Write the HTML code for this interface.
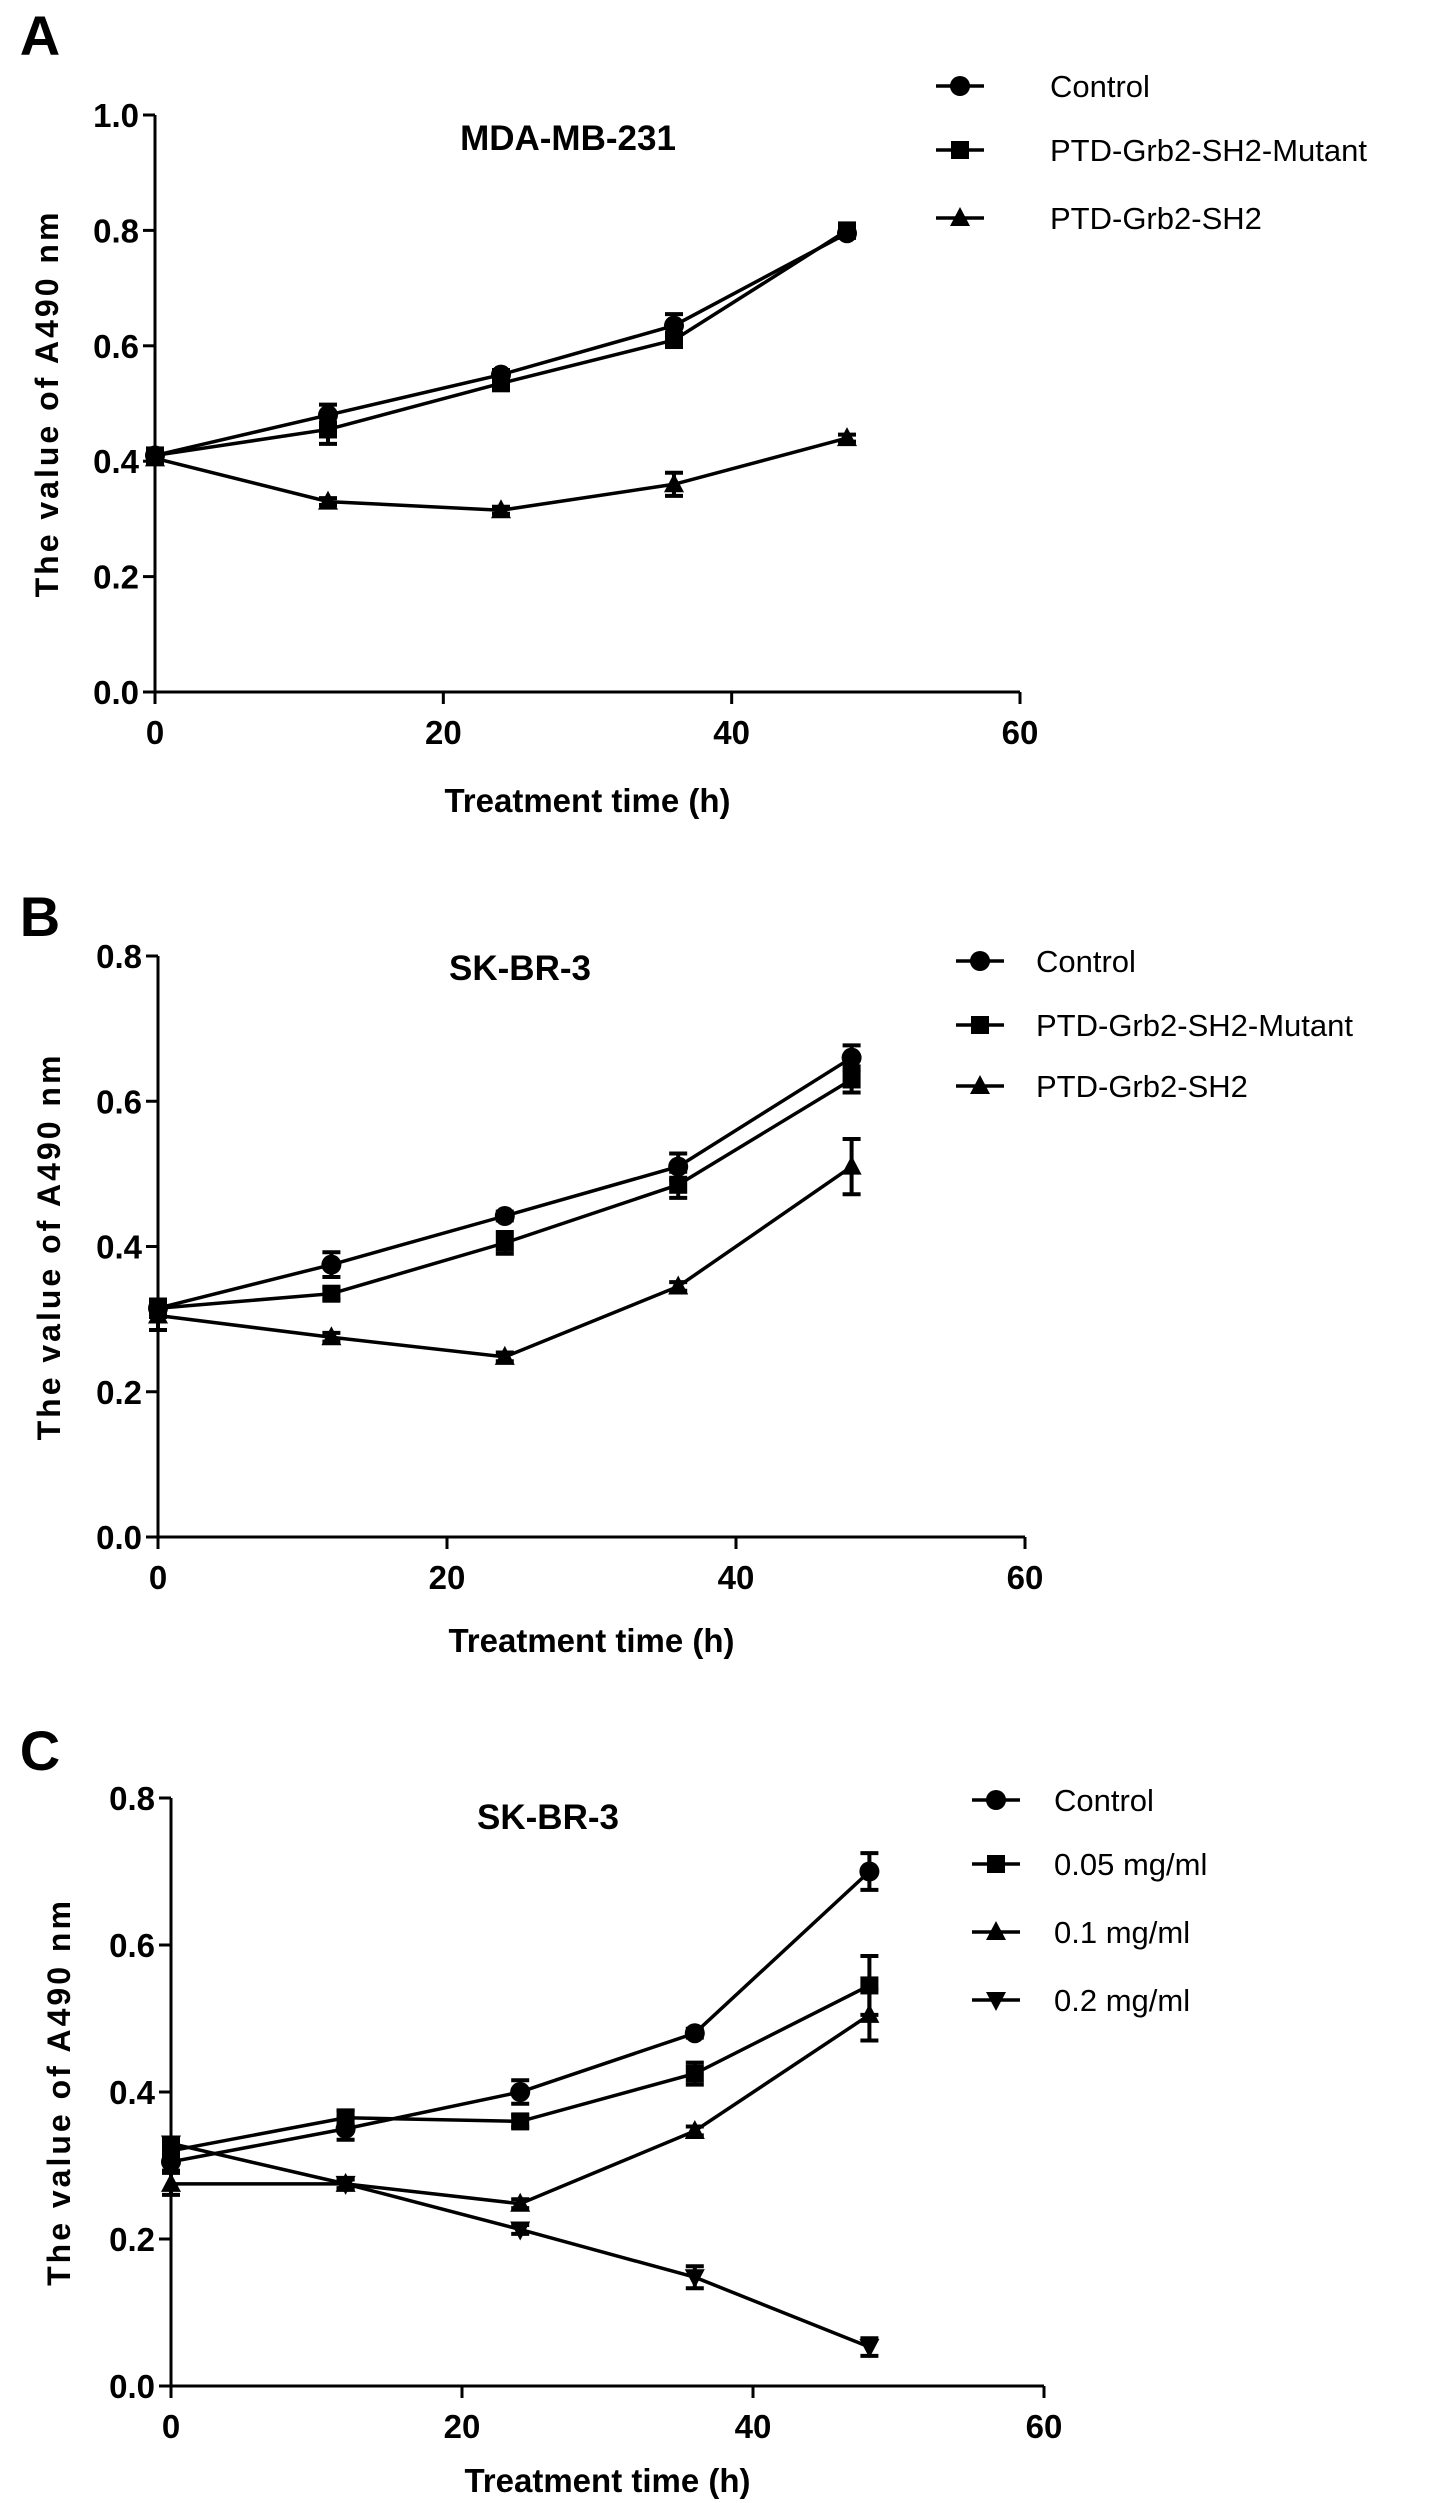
<!DOCTYPE html>
<html><head><meta charset="utf-8">
<style>
html,body{margin:0;padding:0;background:#fff;}
svg{display:block;font-family:"Liberation Sans",sans-serif;}
</style></head>
<body>
<svg id="fig" width="1441" height="2503" viewBox="0 0 1441 2503" xmlns="http://www.w3.org/2000/svg"></svg>
<script>
// ---- Panel A data (MDA-MB-231) ----
const timesA = [0, 12, 24, 36, 48];
const aControl = [0.41, 0.48, 0.55, 0.635, 0.795];
const aControlErr = [0.012, 0.018, 0.008, 0.02, 0.008];
const aMutant = [0.41, 0.455, 0.535, 0.61, 0.80];
const aMutantErr = [0.012, 0.025, 0.01, 0.01, 0.008];
const aSH2 = [0.405, 0.33, 0.315, 0.36, 0.44];
const aSH2Err = [0.008, 0.006, 0.006, 0.02, 0.006];
const aYTicks = [0.0, 0.2, 0.4, 0.6, 0.8, 1.0];
const aLegend = ["Control", "PTD-Grb2-SH2-Mutant", "PTD-Grb2-SH2"];

// ---- Panel B data (SK-BR-3) ----
const timesB = [0, 12, 24, 36, 48];
const bControl = [0.315, 0.375, 0.442, 0.51, 0.66];
const bControlErr = [0.01, 0.017, 0.006, 0.018, 0.017];
const bMutant = [0.315, 0.335, 0.405, 0.485, 0.63];
const bMutantErr = [0.012, 0.008, 0.015, 0.018, 0.018];
const bSH2 = [0.305, 0.275, 0.248, 0.345, 0.51];
const bSH2Err = [0.02, 0.006, 0.006, 0.006, 0.038];
const bYTicks = [0.0, 0.2, 0.4, 0.6, 0.8];
const bLegend = ["Control", "PTD-Grb2-SH2-Mutant", "PTD-Grb2-SH2"];

// ---- Panel C data (SK-BR-3 doses) ----
const timesC = [0, 12, 24, 36, 48];
const cControl = [0.305, 0.35, 0.40, 0.48, 0.70];
const cControlErr = [0.012, 0.015, 0.016, 0.006, 0.025];
const c005 = [0.32, 0.365, 0.36, 0.425, 0.545];
const c005Err = [0.012, 0.01, 0.008, 0.015, 0.04];
const c01 = [0.275, 0.275, 0.248, 0.347, 0.505];
const c01Err = [0.015, 0.006, 0.006, 0.006, 0.035];
const c02 = [0.33, 0.275, 0.213, 0.148, 0.053];
const c02Err = [0.006, 0.006, 0.006, 0.015, 0.012];
const cYTicks = [0.0, 0.2, 0.4, 0.6, 0.8];
const cLegend = ["Control", "0.05 mg/ml", "0.1 mg/ml", "0.2 mg/ml"];

const xTicks = [0, 20, 40, 60];

const NS = "http://www.w3.org/2000/svg";
const svg = document.getElementById("fig");
function el(tag, attrs, parent) {
  const e = document.createElementNS(NS, tag);
  for (const k in attrs) e.setAttribute(k, attrs[k]);
  (parent || svg).appendChild(e);
  return e;
}
function marker(g, shape, cx, cy) {
  let m;
  if (shape === "circle") m = el("circle", {cx: cx, cy: cy, r: 10, fill: "#000"}, g);
  else if (shape === "square") m = el("rect", {x: cx - 9, y: cy - 9, width: 18, height: 18, fill: "#000"}, g);
  else if (shape === "up") m = el("polygon", {points: `${cx},${cy-11} ${cx+10},${cy+8} ${cx-10},${cy+8}`, fill: "#000"}, g);
  else m = el("polygon", {points: `${cx},${cy+11} ${cx+10},${cy-8} ${cx-10},${cy-8}`, fill: "#000"}, g);
  return m;
}

function panel(cfg) {
  const g = el("g", {});
  
  
  const yMax = cfg.yTicks[cfg.yTicks.length - 1];
  const X = v => cfg.x0 + (v / 60) * (cfg.x1 - cfg.x0);
  const Y = v => cfg.y0 - (v / yMax) * (cfg.y0 - cfg.y1);

  const lab = el("text", {x: 40, y: cfg.labelY, "font-size": 56, "font-weight": "bold", "text-anchor": "middle"}, g);
  lab.textContent = cfg.letter;
  
  

  const ax = el("g", {stroke: "#000", "stroke-width": 3}, g);
  
  
  el("line", {x1: cfg.x0, y1: cfg.y1, x2: cfg.x0, y2: cfg.y0 + 12}, ax);
  el("line", {x1: cfg.x0 - 12, y1: cfg.y0, x2: cfg.x1, y2: cfg.y0}, ax);

  cfg.yTicks.forEach(t => {
    el("line", {x1: cfg.x0 - 12, y1: Y(t), x2: cfg.x0, y2: Y(t), stroke: "#000", "stroke-width": 3}, g);
    const tx = el("text", {x: cfg.x0 - 16, y: Y(t) + 12, "font-size": 33, "font-weight": "bold", "text-anchor": "end"}, g);
    tx.textContent = t.toFixed(1);
    
    
  });
  xTicks.forEach(t => {
    el("line", {x1: X(t), y1: cfg.y0, x2: X(t), y2: cfg.y0 + 12, stroke: "#000", "stroke-width": 3}, g);
    const tx = el("text", {x: X(t), y: cfg.y0 + 52, "font-size": 33, "font-weight": "bold", "text-anchor": "middle"}, g);
    tx.textContent = String(t);
    
    
  });

  const xt = el("text", {x: (cfg.x0 + cfg.x1) / 2, y: cfg.xTitleY, "font-size": 33, "font-weight": "bold", "text-anchor": "middle"}, g);
  xt.textContent = "Treatment time (h)";
  
  
  const cy = (cfg.y0 + cfg.y1) / 2;
  const yt = el("text", {x: cfg.yTitleX, y: cy, "font-size": 32, "font-weight": "bold", "text-anchor": "middle", "letter-spacing": 3, transform: `rotate(-90 ${cfg.yTitleX} ${cy})`}, g);
  yt.textContent = "The value of A490 nm";
  
  

  const tt = el("text", {x: cfg.titleX, y: cfg.titleY, "font-size": 35, "font-weight": "bold", "text-anchor": "middle"}, g);
  tt.textContent = cfg.title;
  
  

  cfg.series.forEach((s, i) => {
    const sg = el("g", {}, g);
    
    
    const pts = cfg.times.map((t, j) => `${X(t)},${Y(s.vals[j])}`).join(" ");
    el("polyline", {points: pts, fill: "none", stroke: "#000", "stroke-width": 3.5}, sg);
    cfg.times.forEach((t, j) => {
      const e = s.err[j], v = s.vals[j], px = X(t);
      const eb = el("path", {d: `M${px},${Y(v + e)}V${Y(v - e)}M${px - 9},${Y(v + e)}H${px + 9}M${px - 9},${Y(v - e)}H${px + 9}`, stroke: "#000", "stroke-width": 4, fill: "none"}, sg);
      
      
      const m = marker(sg, s.shape, px, Y(v));
      
      
    });
    const ly = cfg.legY[i];
    const lg = el("g", {}, g);
    
    
    el("line", {x1: cfg.legX - 24, y1: ly, x2: cfg.legX + 24, y2: ly, stroke: "#000", "stroke-width": 3.5}, lg);
    marker(lg, s.shape, cfg.legX, ly);
    const lt = el("text", {x: cfg.legTextX, y: ly + 11, "font-size": 31}, lg);
    lt.textContent = cfg.legend[i];
  });
}

panel({name: "panel-a-chart", letter: "A", labelY: 55, title: "MDA-MB-231", titleX: 568, titleY: 150,
  x0: 155, x1: 1020, y0: 692, y1: 115, yTicks: aYTicks, times: timesA,
  xTitleY: 812, yTitleX: 58,
  legX: 960, legTextX: 1050, legY: [86, 150, 218], legend: aLegend,
  series: [
    {key: "control", vals: aControl, err: aControlErr, shape: "circle"},
    {key: "mutant", vals: aMutant, err: aMutantErr, shape: "square"},
    {key: "sh2", vals: aSH2, err: aSH2Err, shape: "up"}]});

panel({name: "panel-b-chart", letter: "B", labelY: 936, title: "SK-BR-3", titleX: 520, titleY: 980,
  x0: 158, x1: 1025, y0: 1537, y1: 956, yTicks: bYTicks, times: timesB,
  xTitleY: 1652, yTitleX: 60,
  legX: 980, legTextX: 1036, legY: [961, 1025, 1086], legend: bLegend,
  series: [
    {key: "control", vals: bControl, err: bControlErr, shape: "circle"},
    {key: "mutant", vals: bMutant, err: bMutantErr, shape: "square"},
    {key: "sh2", vals: bSH2, err: bSH2Err, shape: "up"}]});

panel({name: "panel-c-chart", letter: "C", labelY: 1770, title: "SK-BR-3", titleX: 548, titleY: 1829,
  x0: 171, x1: 1044, y0: 2386, y1: 1798, yTicks: cYTicks, times: timesC,
  xTitleY: 2492, yTitleX: 70,
  legX: 996, legTextX: 1054, legY: [1800, 1864, 1932, 2000], legend: cLegend,
  series: [
    {key: "control", vals: cControl, err: cControlErr, shape: "circle"},
    {key: "dose-005", vals: c005, err: c005Err, shape: "square"},
    {key: "dose-01", vals: c01, err: c01Err, shape: "up"},
    {key: "dose-02", vals: c02, err: c02Err, shape: "down"}]});
</script>
</body></html>
